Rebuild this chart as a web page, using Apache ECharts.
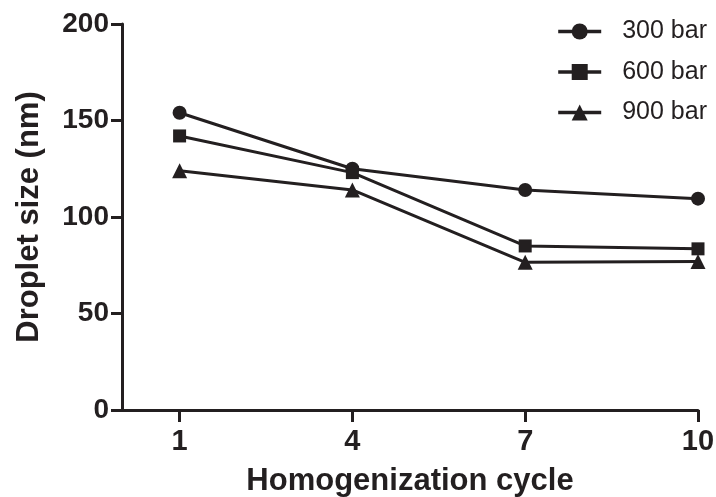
<!DOCTYPE html>
<html>
<head>
<meta charset="utf-8">
<script src="https://cdn.jsdelivr.net/npm/echarts@6/dist/echarts.min.js"></script>
<style>
  html, body { margin: 0; padding: 0; background: #fff; }
  #chart { width: 716px; height: 497px; }
</style>
</head>
<body>
<div id="chart"></div>
<script>
// homogenization cycles on x
const cycles = [1, 4, 7, 10];
// droplet size (nm) per pressure
const bar300 = [154, 125, 114, 109.5];
const bar600 = [142, 123, 85, 83.5];
const bar900 = [124, 114, 76.5, 77];
const yTicks = [0, 50, 100, 150, 200];

const ink = '#231f20';
const font = '"Liberation Sans", Arial, sans-serif';

const pairs = vals => cycles.map((c, i) => [c, vals[i]]);

const mkSeries = (name, vals, symbol, size) => ({
  name,
  type: 'line',
  data: pairs(vals),
  symbol,
  symbolSize: size,
  showSymbol: true,
  lineStyle: { color: ink, width: 3 },
  itemStyle: { color: ink },
  z: 3
});

const chart = echarts.init(document.getElementById('chart'));
chart.setOption({
  animation: false,
  textStyle: { fontFamily: font },
  grid: { left: 122, right: 18, top: 24, bottom: 87, outerBoundsMode: 'none', containLabel: false },
  legend: {
    orient: 'vertical',
    right: 4,
    top: 14,
    itemWidth: 43,
    itemHeight: 20,
    itemGap: 15.5,
    lineStyle: { width: 3.5 },
    textStyle: { color: ink, fontSize: 25, fontFamily: font, padding: [0, 0, 0, 16] },
    data: ['300 bar', '600 bar', '900 bar']
  },
  xAxis: {
    type: 'value',
    min: 0,
    max: 10,
    name: 'Homogenization cycle',
    nameLocation: 'middle',
    nameGap: 56,
    nameTextStyle: { color: ink, fontSize: 31, fontWeight: 'bold', fontFamily: font },
    axisLine: { lineStyle: { color: ink, width: 3 } },
    axisTick: { show: true, length: 12, lineStyle: { color: ink, width: 3 }, customValues: cycles },
    axisLabel: { color: ink, fontSize: 29, fontWeight: 'bold', margin: 17, customValues: cycles },
    splitLine: { show: false }
  },
  yAxis: {
    type: 'value',
    min: 0,
    max: 200,
    interval: 50,
    name: 'Droplet size (nm)',
    nameLocation: 'middle',
    nameGap: 77,
    nameTextStyle: { color: ink, fontSize: 31, fontWeight: 'bold', fontFamily: font },
    axisLine: { show: true, lineStyle: { color: ink, width: 3 } },
    axisTick: { show: true, length: 11, lineStyle: { color: ink, width: 3 } },
    axisLabel: {
      color: ink, fontSize: 28, fontWeight: 'bold', margin: 13,
      formatter: v => (yTicks.includes(v) ? String(v) : '')
    },
    splitLine: { show: false }
  },
  series: [
    mkSeries('300 bar', bar300, 'circle', 14),
    mkSeries('600 bar', bar600, 'rect', 13),
    mkSeries('900 bar', bar900, 'triangle', 15)
  ]
});
</script>
</body>
</html>
